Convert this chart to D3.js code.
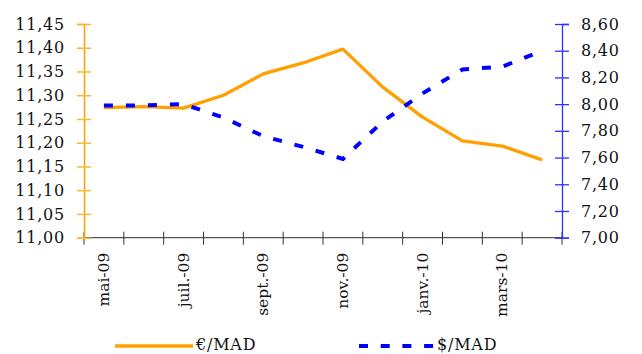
<!DOCTYPE html>
<html><head><meta charset="utf-8">
<script src="https://cdn.jsdelivr.net/npm/d3@7"></script>
<style>body{margin:0;background:#fff}svg{display:block}</style>
</head><body>
<svg id="c" width="642" height="354"></svg>
<script>
const categories = ["mai-09","juin-09","juil.-09","août-09","sept.-09","oct.-09","nov.-09","déc.-09","janv.-10","févr.-10","mars-10","avr.-10"];
const shownLabels = ["mai-09","juil.-09","sept.-09","nov.-09","janv.-10","mars-10"];
const eurMad = [11.274,11.276,11.273,11.300,11.345,11.368,11.397,11.317,11.254,11.204,11.193,11.164];
const usdMad = [7.99,7.99,8.00,7.90,7.76,7.68,7.59,7.87,8.08,8.26,8.28,8.40];
const leftTicks = [11.00,11.05,11.10,11.15,11.20,11.25,11.30,11.35,11.40,11.45];
const rightTicks = [7.00,7.20,7.40,7.60,7.80,8.00,8.20,8.40,8.60];
const seriesNames = ["€/MAD","$/MAD"];

const svg = d3.select("#c");
svg.append("rect").attr("width",642).attr("height",354).attr("fill","#fff");
const L = 84, R = 562, T = 24, B = 237.7;
const FONT = "DejaVu Serif";
const ORANGE = "#ffa000", BLUE = "#0000ff";
const fmt = v => d3.format(".2f")(v).replace(".", ",");

const x = d3.scaleBand().domain(categories).range([L, R]).padding(0);
const yL = d3.scaleLinear().domain([11, 11.45]).range([B, T]);
const yR = d3.scaleLinear().domain([7, 8.6]).range([B, T]);

// x axis
const gx = svg.append("g");
gx.append("line").attr("x1", L).attr("x2", R).attr("y1", B).attr("y2", B).attr("stroke", "#555").attr("stroke-width", 1.3);
const bounds = categories.map(c => x(c)).concat([R]);
gx.selectAll("line.t").data(bounds).enter().append("line")
  .attr("x1", d => d).attr("x2", d => d).attr("y1", B - 6).attr("y2", B + 7)
  .attr("stroke", "#333").attr("stroke-width", 1);
gx.selectAll("text").data(shownLabels).enter().append("text")
  .attr("transform", d => `translate(${x(d) + x.bandwidth() / 2 + 5},${B + 15}) rotate(-90)`)
  .attr("text-anchor", "end").attr("font-family", FONT).attr("font-size", 15.5).attr("fill", "#111")
  .text(d => d);

// left axis
const gl = svg.append("g").attr("transform", `translate(${L},0)`)
  .call(d3.axisLeft(yL).tickValues(leftTicks).tickFormat(fmt).tickSize(7).tickPadding(12));
gl.select(".domain").attr("stroke", ORANGE).attr("stroke-width", 1.5);
gl.selectAll(".tick line").attr("x1", -7).attr("x2", 7).attr("stroke", "#ffb733").attr("stroke-width", 1.5);
gl.selectAll(".tick text").attr("font-family", FONT).attr("font-size", 16).attr("letter-spacing", 0.8).attr("fill", "#111");

// right axis
const gr = svg.append("g").attr("transform", `translate(${R},0)`)
  .call(d3.axisRight(yR).tickValues(rightTicks).tickFormat(fmt).tickSize(7).tickPadding(12));
gr.select(".domain").attr("stroke", "#3030ff").attr("stroke-width", 1.3);
gr.selectAll(".tick line").attr("x1", -7).attr("x2", 7).attr("stroke", "#3030ff").attr("stroke-width", 1.3);
gr.selectAll(".tick text").attr("font-family", FONT).attr("font-size", 16).attr("letter-spacing", 0.8).attr("fill", "#111");

const cx = (d, i) => x(categories[i]) + x.bandwidth() / 2;
// euro line
svg.append("path").datum(eurMad)
  .attr("d", d3.line().x(cx).y(d => yL(d)))
  .attr("fill", "none").attr("stroke", ORANGE).attr("stroke-width", 3.3).attr("stroke-linejoin", "round");
// dollar line
svg.append("path").datum(usdMad)
  .attr("d", d3.line().x(cx).y(d => yR(d)))
  .attr("fill", "none").attr("stroke", BLUE).attr("stroke-width", 4).attr("stroke-dasharray", "9,13");

// legend
const lg = svg.append("g");
lg.append("line").attr("x1", 115).attr("x2", 193).attr("y1", 346).attr("y2", 346).attr("stroke", ORANGE).attr("stroke-width", 3.3);
lg.append("text").attr("x", 196).attr("y", 350).attr("font-family", FONT).attr("font-size", 16).attr("letter-spacing", 0.8).attr("fill", "#111").text(seriesNames[0]);
lg.append("line").attr("x1", 359).attr("x2", 435).attr("y1", 346).attr("y2", 346).attr("stroke", BLUE).attr("stroke-width", 4).attr("stroke-dasharray", "9,12.7");
lg.append("text").attr("x", 437).attr("y", 350).attr("font-family", FONT).attr("font-size", 16).attr("letter-spacing", 0.8).attr("fill", "#111").text(seriesNames[1]);
</script>
</body></html>
